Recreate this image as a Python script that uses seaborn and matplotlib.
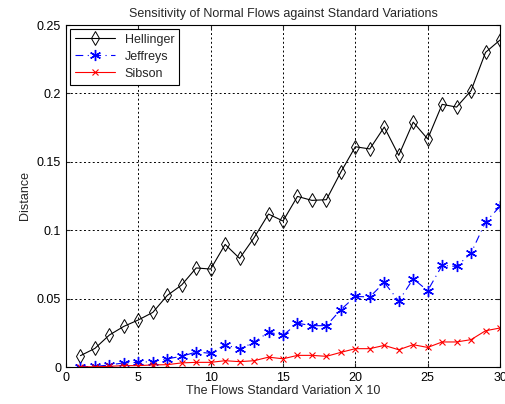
import numpy as np
import pandas as pd
import matplotlib
matplotlib.use("Agg")
import matplotlib.pyplot as plt
import seaborn as sns

x = list(range(1, 31))
hellinger = [0.0083, 0.0136, 0.0234, 0.0297, 0.0344, 0.0399, 0.0523, 0.060, 0.0724, 0.0716,
             0.0896, 0.0794, 0.0945, 0.1118, 0.1067, 0.1247, 0.1218, 0.1223, 0.1425, 0.161,
             0.1594, 0.1754, 0.1547, 0.179, 0.1667, 0.192, 0.190, 0.202, 0.230, 0.239]
jeffreys = [0.0002, 0.0004, 0.0015, 0.003, 0.0034, 0.004, 0.006, 0.0078, 0.011, 0.010,
            0.0163, 0.0132, 0.018, 0.0255, 0.0231, 0.032, 0.0302, 0.0302, 0.0419, 0.0516,
            0.0512, 0.0618, 0.0482, 0.0645, 0.0558, 0.0743, 0.0735, 0.0833, 0.106, 0.1174]
sibson = [0.0001, 0.0002, 0.0005, 0.001, 0.001, 0.0015, 0.0017, 0.003, 0.0034, 0.0034,
          0.0046, 0.0039, 0.0046, 0.0072, 0.006, 0.0085, 0.0085, 0.0078, 0.0107, 0.0134,
          0.0134, 0.0158, 0.0126, 0.0163, 0.0143, 0.0183, 0.0183, 0.020, 0.0265, 0.0285]
xticks = [0, 5, 10, 15, 20, 25, 30]
yticks = [0, 0.05, 0.1, 0.15, 0.2, 0.25]
ytick_labels = ["0", "0.05", "0.1", "0.15", "0.2", "0.25"]

sns.set_style("white")
plt.rcParams['font.family'] = ['Liberation Sans', 'DejaVu Sans']

fig = plt.figure(figsize=(5.06, 4.04), dpi=100)
ax = fig.add_axes([66/506, 1-367/404, (500-66)/506, (367-25)/404])

sns.lineplot(x=x, y=hellinger, ax=ax, color='black', lw=0.8, marker='d', markersize=7,
             markerfacecolor='none', markeredgecolor='black', markeredgewidth=0.7,
             label='Hellinger')
sns.lineplot(x=x, y=jeffreys, ax=ax, color='blue', lw=0.8, linestyle=(0, (7, 4, 1, 4)),
             marker=(6, 2, 0), markersize=8, markeredgecolor='blue', markeredgewidth=1.0,
             label='Jeffreys')
sns.lineplot(x=x, y=sibson, ax=ax, color='red', lw=0.8, marker='x', markersize=4,
             markeredgecolor='red', markeredgewidth=0.8, label='Sibson')

ax.set_xlim(0, 30)
ax.set_ylim(0, 0.25)
ax.set_xticks(xticks)
ax.set_yticks(yticks)
ax.set_yticklabels(ytick_labels)
ax.grid(True, color='black', linestyle=(0, (2, 2.5)), linewidth=0.7)
ax.tick_params(direction='in', length=3, labelsize=9, top=True, right=True,
               bottom=True, left=True, labelcolor='black')
for s in ax.spines.values():
    s.set_color('black')
    s.set_linewidth(0.8)
ax.set_title('Sensitivity of Normal Flows against Standard Variations', fontsize=9)
ax.set_xlabel('The Flows Standard Variation X 10', fontsize=9, labelpad=1)
ax.set_ylabel('Distance', fontsize=9, labelpad=4)
leg = ax.legend(loc='upper left', fontsize=9, frameon=True, fancybox=False,
                edgecolor='black', framealpha=1, handlelength=3.2, borderaxespad=0.3,
                labelspacing=0.4)
leg.get_frame().set_linewidth(0.8)

fig.savefig('out.png', dpi=100)
